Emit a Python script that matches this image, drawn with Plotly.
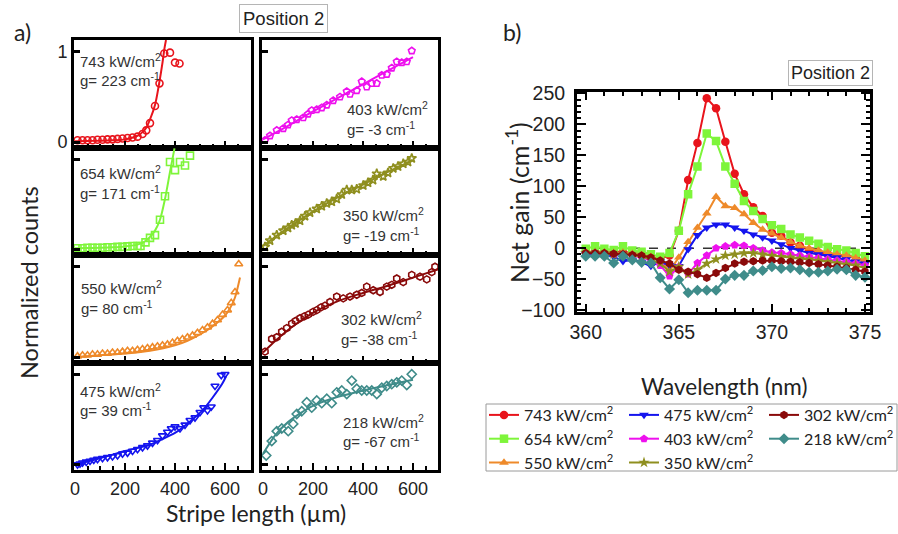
import plotly.graph_objects as go

# ---------------- Panel a) : normalized counts vs stripe length (um) ----------------
len_743 = [10, 30, 50, 70, 90, 110, 130, 150, 170, 190, 210, 230, 250, 270, 285, 300, 320, 338, 357, 380, 400, 418]
cnt_743 = [0.02, 0.02, 0.02, 0.02, 0.025, 0.025, 0.03, 0.03, 0.035, 0.04, 0.045, 0.05, 0.06, 0.09, 0.13, 0.21, 0.40, 0.65, 0.98, 0.99, 0.88, 0.87]
fitlen_743 = [0, 50, 100, 150, 200, 250, 270, 285, 300, 320, 336, 350, 358, 364]
fit_743 = [0.01, 0.012, 0.015, 0.02, 0.03, 0.07, 0.11, 0.16, 0.25, 0.41, 0.64, 0.88, 1.04, 1.13]

len_654 = [10, 30, 50, 70, 90, 110, 130, 150, 170, 190, 210, 230, 250, 262, 282, 300, 320, 340, 360, 380, 400, 420, 440, 460]
cnt_654 = [0.015, 0.015, 0.02, 0.02, 0.02, 0.02, 0.025, 0.025, 0.03, 0.03, 0.035, 0.04, 0.04, 0.04, 0.08, 0.13, 0.16, 0.33, 0.59, 0.97, 0.88, 0.97, 0.93, 1.04]
fitlen_654 = [0, 50, 100, 150, 200, 250, 280, 300, 320, 340, 360, 380, 398]
fit_654 = [0.015, 0.017, 0.02, 0.025, 0.035, 0.055, 0.09, 0.14, 0.21, 0.33, 0.56, 0.86, 1.12]

len_550 = [10, 30, 50, 70, 90, 110, 130, 150, 170, 190, 210, 230, 250, 270, 290, 310, 330, 350, 370, 390, 410, 430, 450, 470, 490, 510, 530, 550, 570, 590, 610, 625, 640, 655]
cnt_550 = [0.01, 0.02, 0.02, 0.03, 0.03, 0.04, 0.04, 0.05, 0.05, 0.06, 0.07, 0.07, 0.08, 0.09, 0.10, 0.11, 0.12, 0.13, 0.14, 0.16, 0.18, 0.20, 0.22, 0.24, 0.27, 0.30, 0.33, 0.37, 0.41, 0.47, 0.52, 0.60, 0.72, 1.03]
fitlen_550 = [0, 100, 200, 300, 400, 450, 500, 550, 600, 620, 640, 660]
fit_550 = [0.0, 0.02, 0.04, 0.07, 0.13, 0.18, 0.25, 0.34, 0.46, 0.54, 0.66, 0.88]

len_475 = [10, 20, 30, 45, 60, 75, 90, 110, 130, 150, 170, 190, 210, 230, 250, 270, 290, 310, 330, 350, 370, 385, 400, 420, 440, 460, 480, 500, 515, 530, 545, 560, 585, 600]
cnt_475 = [0.0, 0.01, 0.02, 0.03, 0.04, 0.05, 0.06, 0.07, 0.08, 0.09, 0.10, 0.12, 0.13, 0.15, 0.17, 0.19, 0.21, 0.24, 0.27, 0.32, 0.36, 0.40, 0.42, 0.40, 0.44, 0.49, 0.52, 0.58, 0.63, 0.60, 0.64, 0.87, 0.99, 1.0]
fitlen_475 = [0, 100, 200, 300, 340, 400, 430, 470, 510, 550, 590, 605]
fit_475 = [0.0, 0.07, 0.15, 0.22, 0.27, 0.35, 0.41, 0.50, 0.60, 0.74, 0.90, 0.98]

len_403 = [8, 28, 55, 81, 100, 115, 135, 161, 180, 195, 215, 235, 255, 281, 308, 335, 348, 375, 395, 415, 435, 455, 475, 495, 515, 535, 555, 575, 595]
cnt_403 = [0.02, 0.07, 0.13, 0.15, 0.19, 0.24, 0.25, 0.27, 0.31, 0.35, 0.36, 0.38, 0.41, 0.46, 0.50, 0.56, 0.53, 0.57, 0.67, 0.61, 0.65, 0.65, 0.74, 0.75, 0.82, 0.89, 0.88, 0.89, 1.01]
fitlen_403 = [0, 100, 200, 300, 400, 500, 600]
fit_403 = [0.03, 0.18, 0.34, 0.49, 0.64, 0.79, 0.94]

len_350 = [8, 28, 55, 81, 100, 115, 130, 148, 168, 188, 215, 235, 255, 275, 295, 315, 335, 355, 375, 401, 420, 440, 455, 481, 500, 521, 540, 561, 580, 595]
cnt_350 = [0.03, 0.10, 0.16, 0.21, 0.24, 0.27, 0.29, 0.32, 0.37, 0.41, 0.45, 0.48, 0.51, 0.53, 0.56, 0.61, 0.66, 0.66, 0.67, 0.71, 0.74, 0.77, 0.84, 0.81, 0.85, 0.90, 0.92, 0.95, 0.97, 1.01]
fitlen_350 = [0, 100, 200, 300, 400, 500, 600]
fit_350 = [0.04, 0.24, 0.42, 0.58, 0.72, 0.86, 0.99]

len_302 = [8, 35, 55, 75, 95, 115, 130, 148, 165, 181, 200, 215, 232, 248, 268, 295, 321, 348, 375, 395, 415, 441, 468, 495, 515, 535, 561, 595, 628, 655, 675, 688]
cnt_302 = [0.06, 0.20, 0.22, 0.28, 0.32, 0.37, 0.40, 0.43, 0.45, 0.47, 0.50, 0.52, 0.55, 0.57, 0.61, 0.67, 0.65, 0.67, 0.69, 0.71, 0.78, 0.74, 0.72, 0.78, 0.80, 0.87, 0.83, 0.91, 0.89, 0.86, 0.94, 1.0]
fitlen_302 = [0, 50, 100, 200, 300, 400, 500, 600, 700]
fit_302 = [0.05, 0.18, 0.30, 0.49, 0.62, 0.71, 0.79, 0.88, 0.97]

len_218 = [13, 35, 55, 75, 101, 121, 135, 155, 175, 195, 215, 235, 255, 275, 295, 315, 335, 355, 375, 395, 415, 435, 455, 475, 495, 515, 535, 555, 575, 595]
cnt_218 = [0.10, 0.26, 0.37, 0.40, 0.37, 0.45, 0.56, 0.59, 0.69, 0.63, 0.71, 0.68, 0.73, 0.68, 0.80, 0.82, 0.78, 0.93, 0.84, 0.82, 0.82, 0.82, 0.78, 0.85, 0.87, 0.89, 0.91, 0.93, 0.88, 1.0]
fitlen_218 = [0, 50, 100, 150, 200, 300, 400, 500, 600]
fit_218 = [0.12, 0.33, 0.47, 0.57, 0.65, 0.75, 0.82, 0.88, 0.94]

power_labels = ["743", "654", "550", "475", "403", "350", "302", "218"]
gain_labels = ["223", "171", "80", "39", "-3", "-19", "-38", "-67"]

# ---------------- Panel b) : net gain spectra ----------------
wavelength = [360, 360.5, 361, 361.5, 362, 362.5, 363, 363.5, 364, 364.5, 365, 365.5, 366, 366.5, 367,
              367.5, 368, 368.5, 369, 369.5, 370, 370.5, 371, 371.5, 372, 372.5, 373, 373.5, 374, 374.5, 375]
gain_743 = [-6, -6, -6, -7, -6, -8, -10, -14, -17, -12, 28, 110, 170, 242, 226, 172, 120, 87, 66, 52, 25, 20, 9, 4, -4, -7, -10, -12, -13, -14, -22]
gain_654 = [-1, 3, -1, -3, 3, -4, -6, -10, -14, -8, 28, 87, 132, 185, 173, 132, 104, 76, 60, 47, 37, 31, 22, 17, 12, 7, 2, -2, -4, -8, -13]
gain_550 = [-6, -7, -7, -8, -7, -9, -11, -14, -20, -37, -15, 10, 33, 56, 83, 68, 65, 55, 41, 30, 24, 17, 10, 4, 0, -4, -7, -10, -12, -16, -20]
gain_475 = [-10, -10, -12, -14, -21, -19, -23, -29, -22, -28, -29, -2, 21, 33, 38, 38, 33, 28, 22, 17, 12, 6, 0, -4, -8, -10, -13, -15, -18, -22, -25]
gain_403 = [-8, -8, -9, -10, -10, -12, -15, -20, -28, -45, -30, -42, -24, -12, 0, 3, 5, 4, 0, -4, -7, -8, -10, -12, -14, -16, -18, -20, -22, -25, -28]
gain_350 = [-8, -8, -9, -10, -10, -12, -14, -18, -25, -38, -30, -42, -35, -25, -18, -12, -10, -8, -8, -10, -12, -14, -15, -17, -18, -20, -22, -24, -26, -28, -32]
gain_302 = [-8, -8, -8, -9, -10, -11, -12, -15, -20, -25, -35, -38, -42, -48, -40, -32, -25, -22, -21, -20, -20, -21, -22, -23, -24, -26, -28, -30, -32, -35, -38]
gain_218 = [-13, -13, -13, -24, -13, -19, -23, -24, -48, -66, -51, -72, -68, -68, -68, -50, -44, -44, -37, -36, -30, -33, -32, -35, -39, -39, -37, -34, -35, -44, -47]

colors = ["#e8141c", "#7ef53a", "#ee8a2a", "#1515ee", "#ee10ee", "#8f8f1f", "#8a0a0a", "#3f8c8a"]
open_symbols = ["circle-open", "square-open", "triangle-up-open", "triangle-down-open",
                "pentagon-open", "star-open", "hexagon-open", "diamond-open"]
fill_symbols = ["circle", "square", "triangle-up", "triangle-down", "pentagon", "star", "hexagon", "diamond"]

lens = [len_743, len_654, len_550, len_475, len_403, len_350, len_302, len_218]
cnts = [cnt_743, cnt_654, cnt_550, cnt_475, cnt_403, cnt_350, cnt_302, cnt_218]
fitlens = [fitlen_743, fitlen_654, fitlen_550, fitlen_475, fitlen_403, fitlen_350, fitlen_302, fitlen_218]
fits = [fit_743, fit_654, fit_550, fit_475, fit_403, fit_350, fit_302, fit_218]
gains = [gain_743, gain_654, gain_550, gain_475, gain_403, gain_350, gain_302, gain_218]
legend_of = ["legend", "legend", "legend", "legend2", "legend2", "legend2", "legend3", "legend3"]

W, H = 898, 534
def px(x):
    return x / W
def py(y):
    return 1 - y / H

def ax_id(n):
    return ("x" if n == 1 else f"x{n}"), ("y" if n == 1 else f"y{n}")

fig = go.Figure()
layout = {}

col_x = [(74, 251), (262, 438)]
col_range = [[-4, 704], [-4, 700]]
row_y = [(40, 147.5), (147.5, 255), (255, 362.5), (362.5, 470)]

# text anchor positions inside panels (domain fractions)
txt_pos = [(0.02, 0.81, 0.63), (0.02, 0.77, 0.58), (0.03, 0.70, 0.51), (0.02, 0.74, 0.56),
           (0.47, 0.36, 0.18), (0.45, 0.38, 0.19), (0.44, 0.41, 0.22), (0.45, 0.45, 0.27)]

tick_font_a = dict(family="Liberation Sans, Arial", size=18, color="#222")
annotations = []
for i in range(8):
    col = i // 4
    row = i % 4
    n = i + 1
    xa, ya = ax_id(n)
    fig.add_trace(go.Scatter(x=lens[i], y=cnts[i], mode="markers", xaxis=xa, yaxis=ya,
                             marker=dict(symbol=open_symbols[i], size=7, color=colors[i],
                                         line=dict(width=1.6, color=colors[i])),
                             showlegend=False))
    fig.add_trace(go.Scatter(x=fitlens[i], y=fits[i], mode="lines", xaxis=xa, yaxis=ya,
                             line=dict(color=colors[i], width=2, shape="spline", smoothing=0.8),
                             showlegend=False))
    x0, x1 = col_x[col]
    y0, y1 = row_y[row]
    bottom = (row == 3)
    topleft = (i == 0)
    xkey = "xaxis" if n == 1 else f"xaxis{n}"
    ykey = "yaxis" if n == 1 else f"yaxis{n}"
    layout[xkey] = dict(domain=[px(x0), px(x1)], anchor=ya, range=col_range[col], automargin=False,
                        showline=True, linecolor="black", linewidth=3, mirror=True,
                        ticks="inside", ticklen=7, tickwidth=2, tickcolor="black",
                        tickvals=[0, 200, 400, 600], showticklabels=bottom, ticklabelstandoff=0,
                        minor=dict(tickvals=[50, 100, 150, 250, 300, 350, 450, 500, 550, 650],
                                   ticks="inside", ticklen=4, tickwidth=2, tickcolor="black"),
                        showgrid=False, zeroline=False, tickfont=tick_font_a)
    layout[ykey] = dict(domain=[py(y1), py(y0)], anchor=xa, range=[-0.06, 1.13], automargin=False,
                        showline=True, linecolor="black", linewidth=3, mirror=True,
                        ticks="inside", ticklen=6, tickwidth=3, tickcolor="black",
                        tickvals=[0, 1], showticklabels=topleft, ticklabelstandoff=0,
                        showgrid=False, zeroline=False, tickfont=tick_font_a)
    tx, ty1, ty2 = txt_pos[i]
    annotations.append(dict(text=f"{power_labels[i]} kW/cm<sup>2</sup>", xref=f"{xa} domain", yref=f"{ya} domain",
                            x=tx, y=ty1, xanchor="left", yanchor="middle", showarrow=False,
                            font=dict(family="Liberation Sans, Arial", size=15, color="#333")))
    annotations.append(dict(text=f"g= {gain_labels[i]} cm<sup>-1</sup>", xref=f"{xa} domain", yref=f"{ya} domain",
                            x=tx, y=ty2, xanchor="left", yanchor="middle", showarrow=False,
                            font=dict(family="Liberation Sans, Arial", size=15, color="#333")))

# Panel b
for i in range(8):
    fig.add_trace(go.Scatter(x=wavelength, y=gains[i], mode="lines+markers", xaxis="x9", yaxis="y9",
                             name=f"{power_labels[i]} kW/cm<sup>2</sup>", legend=legend_of[i],
                             line=dict(color=colors[i], width=2),
                             marker=dict(symbol=fill_symbols[i], size=8.5, color=colors[i])))

tick_font_b = dict(family="Liberation Sans, Arial", size=19.5, color="#222")
layout["xaxis9"] = dict(domain=[px(577), px(870)], anchor="y9", range=[359.53, 375.27], automargin=False,
                        showline=True, linecolor="black", linewidth=3, mirror="allticks",
                        ticks="inside", ticklen=8, tickwidth=2, tickcolor="black", dtick=5, tick0=360,
                        ticklabelstandoff=1,
                        minor=dict(dtick=1, ticks="inside", ticklen=4, tickwidth=2, tickcolor="black"),
                        showgrid=False, zeroline=False, tickfont=tick_font_b)
layout["yaxis9"] = dict(domain=[py(311.7), py(91.7)], anchor="x9", range=[-102.7, 252.7], automargin=False,
                        showline=True, linecolor="black", linewidth=3, mirror="allticks",
                        ticks="inside", ticklen=9, tickwidth=2, tickcolor="black", dtick=50, tick0=0,
                        ticklabelstandoff=5,
                        minor=dict(dtick=10, ticks="inside", ticklen=4, tickwidth=2, tickcolor="black"),
                        showgrid=False, zeroline=False, tickfont=tick_font_b)

shapes = [
    dict(type="line", xref="x9 domain", yref="y9", x0=0, x1=1, y0=0, y1=0,
         line=dict(color="#333", width=1.5, dash="dash"), layer="below"),
    # frame around the three legend columns
    dict(type="rect", xref="paper", yref="paper", x0=px(486), x1=px(897), y0=py(471), y1=py(404),
         line=dict(color="#9a9a9a", width=1), fillcolor="rgba(0,0,0,0)"),
]

title_font = dict(family="Lato, Carlito, sans-serif", color="#222")
annotations += [
    dict(text="Normalized counts", x=px(29), y=py(283), xref="paper", yref="paper", textangle=-90,
         showarrow=False, font=dict(title_font, size=23.5), xanchor="center", yanchor="middle"),
    dict(text="Stripe length (µm)", x=px(256), y=py(513), xref="paper", yref="paper",
         showarrow=False, font=dict(title_font, size=23), xanchor="center", yanchor="middle"),
    dict(text="Net gain (cm<sup>-1</sup>)", x=px(518), y=py(203), xref="paper", yref="paper", textangle=-90,
         showarrow=False, font=dict(title_font, size=25), xanchor="center", yanchor="middle"),
    dict(text="Wavelength (nm)", x=px(724), y=py(386), xref="paper", yref="paper",
         showarrow=False, font=dict(title_font, size=22.5), xanchor="center", yanchor="middle"),
    dict(text="a)", x=px(22), y=py(32), xref="paper", yref="paper", showarrow=False,
         xanchor="center", yanchor="middle",
         font=dict(family="Lato, sans-serif", size=23, color="#222")),
    dict(text="b)", x=px(512), y=py(32), xref="paper", yref="paper", showarrow=False,
         xanchor="center", yanchor="middle",
         font=dict(family="Lato, sans-serif", size=23, color="#222")),
    dict(text="Position 2", x=px(283), y=py(19), xref="paper", yref="paper", showarrow=False,
         xanchor="center", yanchor="middle",
         bordercolor="#b5b5b5", borderwidth=1, borderpad=3, bgcolor="white",
         font=dict(family="Liberation Sans, Arial", size=18.5, color="#222")),
    dict(text="Position 2", x=px(830), y=py(73), xref="paper", yref="paper", showarrow=False,
         xanchor="center", yanchor="middle",
         bordercolor="#b5b5b5", borderwidth=1, borderpad=2, bgcolor="white",
         font=dict(family="Liberation Sans, Arial", size=18, color="#222")),
]

leg_common = dict(orientation="v", xanchor="left", yanchor="top", bgcolor="rgba(0,0,0,0)",
                  borderwidth=0, font=dict(family="Lato, Carlito, sans-serif", size=16, color="#222"),
                  itemwidth=30, tracegroupgap=0)

fig.update_layout(
    width=W, height=H, margin=dict(l=0, r=0, t=0, b=0, autoexpand=False),
    paper_bgcolor="white", plot_bgcolor="white",
    annotations=annotations, shapes=shapes,
    legend=dict(leg_common, x=px(484), y=py(398)),
    legend2=dict(leg_common, x=px(624), y=py(398)),
    legend3=dict(leg_common, x=px(764), y=py(398)),
    **layout,
)

fig.write_html("out.html", config={"displayModeBar": False},
               post_script="document.body.style.margin='0px';")
